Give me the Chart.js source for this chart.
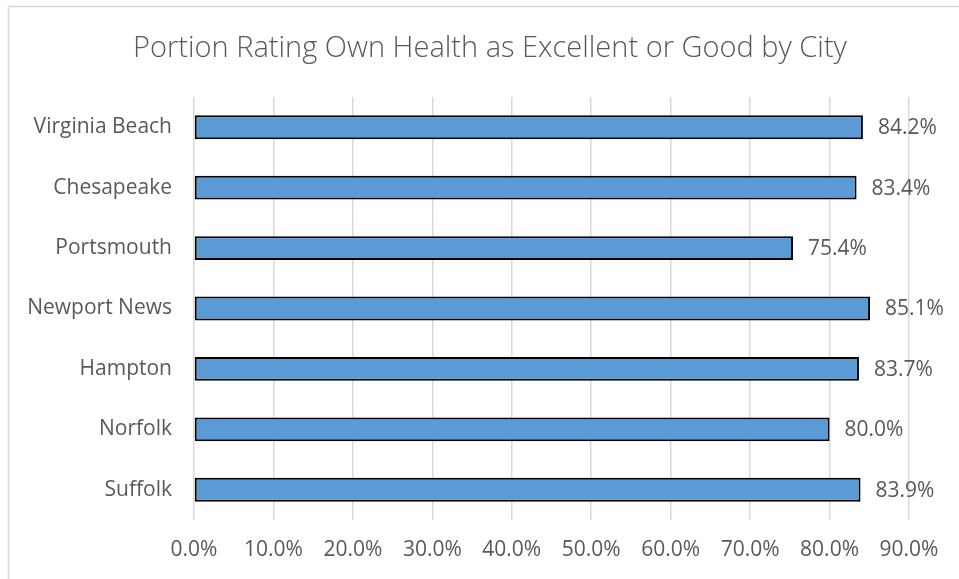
<!DOCTYPE html>
<html>
<head>
<meta charset="utf-8">
<script src="https://cdn.jsdelivr.net/npm/chart.js@4/dist/chart.umd.min.js"></script>
<style>
  html, body { margin: 0; padding: 0; background: #fff; }
  #wrap { width: 959px; height: 579px; position: relative; }
</style>
</head>
<body>
<div id="wrap"><canvas id="c" width="959" height="579"></canvas></div>
<script>
const chartTitle = "Portion Rating Own Health as Excellent or Good by City";
const cities = ["Virginia Beach", "Chesapeake", "Portsmouth", "Newport News", "Hampton", "Norfolk", "Suffolk"];
const ratings = [84.2, 83.4, 75.4, 85.1, 83.7, 80.0, 83.9];
const axisMin = 0;
const axisMax = 90;
const axisStep = 10;

const FONT = "'Open Sans', 'Liberation Sans', sans-serif";
const TEXT = "#595959";

const frame = {
  id: 'frame',
  beforeDraw(chart) {
    const ctx = chart.ctx;
    ctx.save();
    ctx.fillStyle = '#fff';
    ctx.fillRect(0, 0, chart.width, chart.height);
    ctx.strokeStyle = '#d9d9d9';
    ctx.lineWidth = 1.5;
    ctx.beginPath();
    ctx.moveTo(8.5, chart.height);
    ctx.lineTo(8.5, 6.5);
    ctx.lineTo(chart.width, 6.5);
    ctx.stroke();
    ctx.restore();
  },
  afterDraw(chart) {
    const ctx = chart.ctx;
    ctx.save();
    ctx.font = "300 29px " + FONT;
    ctx.fillStyle = TEXT;
    ctx.textAlign = 'center';
    ctx.textBaseline = 'alphabetic';
    ctx.fillText(chartTitle, 490, 57);
    ctx.restore();
  }
};

const valueLabels = {
  id: 'valueLabels',
  afterDatasetsDraw(chart) {
    const ctx = chart.ctx;
    const meta = chart.getDatasetMeta(0);
    ctx.save();
    ctx.font = "21px " + FONT;
    ctx.fillStyle = TEXT;
    ctx.textAlign = 'left';
    ctx.textBaseline = 'middle';
    meta.data.forEach((bar, i) => {
      ctx.fillText(ratings[i].toFixed(1) + '%', bar.x + 15, bar.y + 1);
    });
    ctx.restore();
  }
};

new Chart(document.getElementById('c'), {
  type: 'bar',
  data: {
    labels: cities,
    datasets: [{
      data: ratings,
      backgroundColor: '#5B9BD5',
      borderColor: '#000000',
      borderWidth: 2,
      borderSkipped: false,
      categoryPercentage: 0.76,
      barPercentage: 0.52
    }]
  },
  options: {
    indexAxis: 'y',
    responsive: false,
    animation: false,
    layout: { padding: { left: 0, right: 50, top: 97, bottom: 0 } },
    plugins: {
      legend: { display: false },
      tooltip: { enabled: false },
      title: { display: false }
    },
    scales: {
      x: {
        min: axisMin,
        max: axisMax,
        ticks: {
          stepSize: axisStep,
          color: TEXT,
          font: { family: FONT, size: 21 },
          padding: 17,
          callback: v => v.toFixed(1) + '%'
        },
        grid: { color: '#d9d9d9', lineWidth: 1.5, drawTicks: false },
        border: { display: false },
        afterFit: s => { s.height = 59; }
      },
      y: {
        ticks: {
          color: TEXT,
          font: { family: FONT, size: 21 },
          padding: 22
        },
        grid: { display: false, drawTicks: false },
        border: { display: false },
        afterFit: s => { s.width = 194; }
      }
    }
  },
  plugins: [frame, valueLabels]
});
</script>
</body>
</html>
